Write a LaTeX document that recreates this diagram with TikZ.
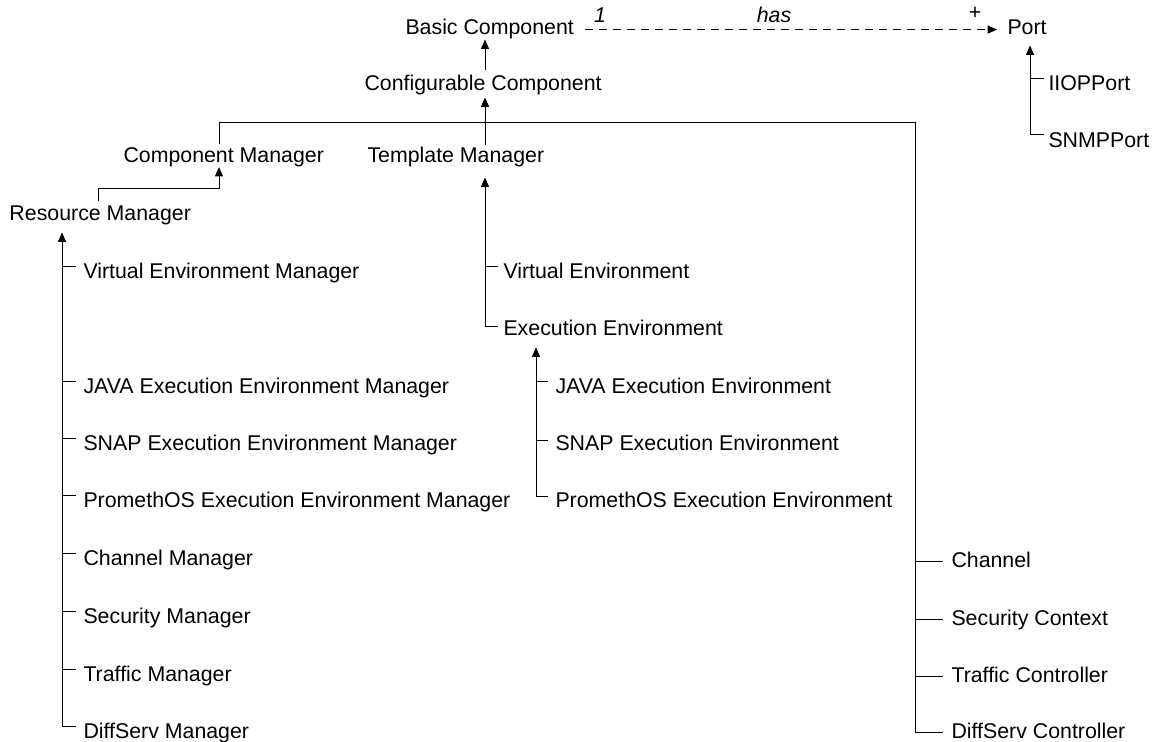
\documentclass[tikz,border=0pt]{standalone}
\usepackage{fontspec}
\setmainfont{Liberation Sans}
\usetikzlibrary{arrows.meta}

% leaf of a tree: name, text x, baseline y, text, trunk x, tick rise, gap to text
\newcommand\mkleaf[7]{%
  \node[lbl] (#1) at (#2,#3) {#4};
  \coordinate (#1-k) at (#5,#3-#6);
  \draw[shorten >=#7] (#1-k) -- (#1-k -| #1.west);
}

\begin{document}
\begin{tikzpicture}[x=0.75pt,y=-0.75pt,
  line width=0.75pt,
  lbl/.style={anchor=base west,inner sep=0pt,text height=10.8pt,text depth=3.4pt,
              font=\fontsize{16}{19}\selectfont},
  mult/.style={anchor=base,inner sep=0pt,font=\fontsize{16}{19}\selectfont\itshape},
  arr/.style={-{Triangle[length=7pt,width=6pt]}},
  assoc/.style={dash pattern=on 6pt off 4.5pt}]
\useasboundingbox (0,0) rectangle (1158,742);

% main classes
\node[lbl] (bc) at (405,34.5) {Basic Component};
\node[lbl] (port) at (1007,34.5) {Port};
\node[lbl] (cc) at (364,91) {Configurable Component};
\node[lbl] (cm) at (123,162) {Component Manager};
\node[lbl] (tm) at (367,162) {Template Manager};
\node[lbl] (rm) at (9,220) {Resource Manager};

% association Basic Component -> Port
\draw[assoc,-{Triangle[length=7pt,width=6pt]},shorten <=8.25pt,shorten >=7.5pt] (bc.east) -- (port.west);
\node[mult] (m1) at (600,23) {1};
\node[mult] (mhas) at (774,23) {has};
\node[mult,font=\fontsize{16}{19}\selectfont] (mplus) at (975,20) {+};

% Port subclasses
\mkleaf{ii}{1048}{91}{IIOPPort}{1030}{12}{3pt}
\mkleaf{sn}{1048}{147}{SNMPPort}{1030}{12}{3pt}
\draw[arr,shorten >=4.5pt] (sn-k) -- (sn-k |- port.south);
\draw (ii-k -| sn-k) -- (sn-k);

% upper inheritance chain
\coordinate (ax) at (485,0);
\draw[arr,shorten <=4.5pt,shorten >=0pt] (ax |- cc.north) -- (ax |- bc.south);
\draw[arr,shorten <=1.3pt,shorten >=1.1pt] (ax |- tm.north) -- (ax |- cc.south);

% Resource Manager -> Component Manager
\coordinate (rmup) at (98,188);
\coordinate (cmx) at (219,0);
\draw[arr,shorten <=3pt] (rmup |- rm.north) -- (rmup) -| (cmx |- cm.south);

% left tree: Resource Manager subclasses
\mkleaf{lv}{83}{278}{Virtual Environment Manager}{62}{12}{5.25pt}
\mkleaf{lj}{83}{393}{JAVA Execution Environment Manager}{62}{12}{5.25pt}
\mkleaf{ls}{83}{450}{SNAP Execution Environment Manager}{62}{12}{5.25pt}
\mkleaf{lp}{83}{507}{PromethOS Execution Environment Manager}{62}{12}{5.25pt}
\mkleaf{lc}{83}{565}{Channel Manager}{62}{12}{5.25pt}
\mkleaf{lsec}{83}{623}{Security Manager}{62}{12}{5.25pt}
\mkleaf{lt}{83}{681}{Traffic Manager}{62}{12}{5.25pt}
\mkleaf{ld}{83}{738}{DiffServ Manager}{62}{12}{5.25pt}
\draw[arr,shorten >=5.6pt] (ld-k) -- (ld-k |- rm.south);

% middle tree: Template Manager subclasses
\mkleaf{mv}{503}{278}{Virtual Environment}{485}{12}{3.75pt}
\mkleaf{ee}{503}{335}{Execution Environment}{485}{9}{3.75pt}
\draw[arr,shorten >=7.9pt] (ee-k) -- (ee-k |- tm.south);

% Execution Environment subclasses
\mkleaf{mj}{555}{393}{JAVA Execution Environment}{536}{12}{5.25pt}
\mkleaf{ms}{555}{450}{SNAP Execution Environment}{536}{10}{5.25pt}
\mkleaf{mp}{555}{507}{PromethOS Execution Environment}{536}{11}{5.25pt}
\draw[arr,shorten >=5.6pt] (mp-k) -- (mp-k |- ee.south);

% right tree joined to the Configurable Component line
\mkleaf{rc}{951}{567}{Channel}{915}{6}{6pt}
\mkleaf{rs}{951}{625}{Security Context}{915}{6}{6pt}
\mkleaf{rt}{951}{682}{Traffic Controller}{915}{6}{6pt}
\mkleaf{rd}{951}{738}{DiffServ Controller}{915}{6}{6pt}
\coordinate (busl) at (219,123);
\coordinate (busr) at (915,123);
\draw[shorten <=2.5pt] (busl |- cm.north) -- (busl) -- (busr) -- (rd-k);
\end{tikzpicture}
\end{document}
